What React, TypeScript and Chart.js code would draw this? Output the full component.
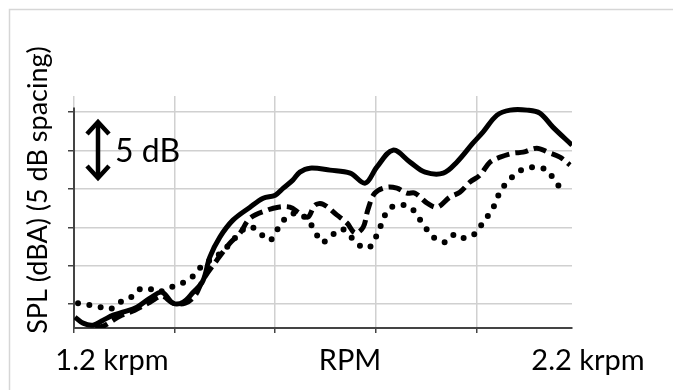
import React, { useEffect, useRef } from "react";
import { Chart, registerables } from "chart.js";

Chart.register(...registerables);

// ---- data (RPM, relative SPL in dB) ----
const solidRpm = [1202, 1218, 1238, 1258, 1278, 1297, 1325, 1351, 1375, 1397, 1417, 1437, 1456, 1470, 1490, 1516, 1550, 1576, 1600, 1616, 1635, 1649, 1669, 1709, 1749, 1779, 1802, 1834, 1868, 1898, 1934, 1961, 1993, 2013, 2041, 2067, 2101, 2126, 2152, 2190];
const solidSpl = [3.31, 2.53, 2.27, 2.92, 3.57, 3.96, 4.61, 5.78, 6.56, 5.13, 5.26, 6.56, 8.0, 11.12, 13.73, 15.94, 17.63, 18.8, 19.19, 20.1, 21.15, 22.19, 22.71, 22.45, 22.06, 20.76, 22.84, 25.05, 23.49, 22.19, 22.06, 23.49, 25.96, 27.4, 29.61, 30.26, 30.26, 29.87, 28.05, 25.7];

const dashedRpm = [1242, 1258, 1272, 1291, 1321, 1351, 1375, 1397, 1421, 1441, 1456, 1484, 1510, 1530, 1550, 1584, 1606, 1629, 1649, 1665, 1679, 1695, 1723, 1743, 1759, 1775, 1784, 1798, 1822, 1842, 1862, 1878, 1902, 1922, 1947, 1967, 1987, 2007, 2027, 2047, 2073, 2093, 2120, 2142, 2166, 2186];
const dashedSpl = [2.01, 2.14, 2.66, 3.44, 4.22, 5.26, 6.04, 5.13, 5.13, 6.17, 8.13, 10.73, 12.94, 14.25, 16.2, 17.24, 17.63, 17.63, 16.85, 16.33, 17.89, 18.02, 16.59, 15.55, 14.25, 15.03, 17.24, 19.45, 20.23, 20.1, 19.45, 19.45, 18.15, 17.63, 18.93, 19.58, 20.89, 21.8, 23.49, 24.14, 24.66, 24.79, 25.31, 24.79, 24.14, 23.1];

const dottedRpm = [1208, 1232, 1252, 1272, 1295, 1311, 1327, 1347, 1367, 1387, 1415, 1437, 1450, 1470, 1494, 1516, 1540, 1554, 1574, 1590, 1606, 1623, 1643, 1663, 1679, 1693, 1713, 1733, 1753, 1773, 1788, 1802, 1812, 1824, 1842, 1868, 1884, 1898, 1914, 1938, 1958, 1977, 2001, 2013, 2031, 2041, 2053, 2071, 2093, 2117, 2140, 2156, 2174];
const dottedSpl = [5.13, 4.87, 4.61, 4.35, 5.39, 5.78, 6.82, 7.08, 6.56, 7.08, 7.74, 8.65, 9.69, 10.73, 11.77, 13.33, 14.9, 15.03, 13.99, 13.33, 14.9, 16.33, 16.85, 16.07, 14.51, 13.07, 13.99, 14.77, 13.59, 12.42, 12.42, 13.99, 15.55, 17.24, 17.89, 17.63, 16.33, 15.03, 13.73, 13.07, 14.12, 13.59, 14.38, 15.68, 17.24, 18.8, 20.23, 21.54, 22.58, 22.84, 22.45, 21.02, 19.58];

const rpmMin = 1200;
const rpmMax = 2190;
const rpmGridTicks = [1200, 1400, 1600, 1800, 2000];
const splMin = 1.9;
const splMax = 32.1;
const splGridTicks = [5, 10, 15, 20, 25, 30];

const yAxisTitle = "SPL (dBA) (5 dB spacing)";
const xLabelLeft = "1.2 krpm";
const xLabelMid = "RPM";
const xLabelRight = "2.2 krpm";
const scaleNote = "5 dB";

const FONT = "Lato, 'Open Sans', sans-serif";

const toPoints = (xs: number[], ys: number[]) => xs.map((x, i) => ({ x, y: ys[i] }));

const decorPlugin = {
  id: "decor",
  beforeDatasetsDraw(chart: any) {
    const ctx = chart.ctx;
    const { left, bottom } = chart.chartArea;
    const y = chart.scales.y;
    ctx.save();
    // outer frame
    ctx.strokeStyle = "#d6d6d6";
    ctx.lineWidth = 1.5;
    ctx.strokeRect(9.5, 9.5, 700, 420);
    // y axis line
    ctx.strokeStyle = "#444";
    ctx.lineWidth = 2;
    ctx.beginPath();
    ctx.moveTo(left, y.getPixelForValue(30.6));
    ctx.lineTo(left, bottom);
    ctx.stroke();
    ctx.restore();
  },
  afterDraw(chart: any) {
    const ctx = chart.ctx;
    ctx.save();
    ctx.fillStyle = "#000";
    // y title
    ctx.save();
    ctx.translate(38, 190);
    ctx.rotate(-Math.PI / 2);
    ctx.font = `27px ${FONT}`;
    ctx.textAlign = "center";
    ctx.textBaseline = "middle";
    ctx.fillText(yAxisTitle, 0, 0);
    ctx.restore();
    // x labels
    ctx.font = `29px ${FONT}`;
    ctx.textAlign = "center";
    ctx.textBaseline = "alphabetic";
    ctx.fillText(xLabelLeft, 112, 370);
    ctx.fillText(xLabelMid, 350, 370);
    ctx.fillText(xLabelRight, 588, 370);
    // scale arrow
    ctx.strokeStyle = "#000";
    ctx.lineWidth = 4.5;
    ctx.lineCap = "butt";
    ctx.lineJoin = "miter";
    ctx.beginPath();
    ctx.moveTo(98, 123);
    ctx.lineTo(98, 177);
    ctx.stroke();
    ctx.beginPath();
    ctx.moveTo(87, 134);
    ctx.lineTo(98, 122);
    ctx.lineTo(109, 134);
    ctx.stroke();
    ctx.beginPath();
    ctx.moveTo(87, 166);
    ctx.lineTo(98, 178);
    ctx.lineTo(109, 166);
    ctx.stroke();
    ctx.font = `32px ${FONT}`;
    ctx.textAlign = "left";
    ctx.fillText(scaleNote, 115, 162);
    ctx.restore();
  },
};

export default function App() {
  const ref = useRef<HTMLCanvasElement>(null);
  useEffect(() => {
    if (!ref.current) return;
    const chart = new Chart(ref.current, {
      type: "line",
      data: {
        datasets: [
          {
            data: toPoints(dottedRpm, dottedSpl),
            borderColor: "#000",
            borderWidth: 6,
            borderDash: [0, 11.5],
            borderCapStyle: "round",
            pointRadius: 0,
            tension: 0.35,
            fill: false,
          },
          {
            data: toPoints(dashedRpm, dashedSpl),
            borderColor: "#000",
            borderWidth: 5,
            borderDash: [13, 6],
            borderCapStyle: "butt",
            pointRadius: 0,
            tension: 0.35,
            fill: false,
          },
          {
            data: toPoints(solidRpm, solidSpl),
            borderColor: "#000",
            borderWidth: 5,
            borderJoinStyle: "round",
            pointRadius: 0,
            tension: 0.35,
            fill: false,
          },
        ],
      },
      options: {
        animation: false,
        responsive: false,
        maintainAspectRatio: false,
        layout: { padding: { left: 68, top: 96, right: 101, bottom: 57 } },
        plugins: { legend: { display: false }, tooltip: { enabled: false } },
        scales: {
          x: {
            type: "linear",
            min: rpmMin,
            max: rpmMax,
            afterBuildTicks: (s: any) => {
              s.ticks = rpmGridTicks.map((v) => ({ value: v }));
            },
            ticks: { display: false },
            grid: { color: "#d0d0d0", lineWidth: 1.5, tickColor: "#444", tickLength: 5 },
            border: { display: true, color: "#444", width: 2 },
          },
          y: {
            type: "linear",
            min: splMin,
            max: splMax,
            afterBuildTicks: (s: any) => {
              s.ticks = splGridTicks.map((v) => ({ value: v }));
            },
            ticks: { display: false },
            grid: { color: "#d0d0d0", lineWidth: 1.5, tickColor: "#444", tickLength: 6 },
            border: { display: false },
          },
        },
      },
      plugins: [decorPlugin],
    });
    return () => chart.destroy();
  }, []);
  return (
    <div style={{ position: "fixed", left: 0, top: 0, width: 673, height: 390, background: "#fff" }}>
      <canvas ref={ref} width={673} height={390} style={{ display: "block" }} />
    </div>
  );
}
